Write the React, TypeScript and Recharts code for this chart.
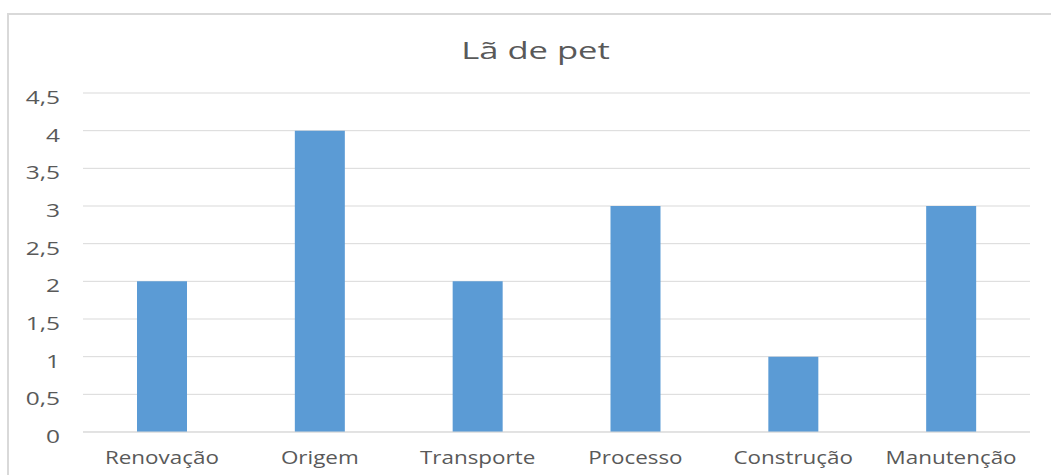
import { BarChart, Bar, XAxis, YAxis, CartesianGrid } from "recharts";

const categories = [
  "Renovação",
  "Origem",
  "Transporte",
  "Processo",
  "Construção",
  "Manutenção",
];
const values = [2, 4, 2, 3, 1, 3];
const yTicks = [0, 0.5, 1, 1.5, 2, 2.5, 3, 3.5, 4, 4.5];

const data = categories.map((name, i) => ({ name, value: values[i] }));

const textColor = "#595959";
const fontFamily = "'Open Sans', sans-serif";

// Excel export looks horizontally stretched, so the glyphs are scaled in x
function CategoryTick(props: any) {
  const { x, y, payload } = props;
  return (
    <g transform={`translate(${x},${y}) scale(1.18,1)`}>
      <text
        x={0}
        y={0}
        dy={22}
        textAnchor="middle"
        fontSize={19}
        fill={textColor}
        fontFamily={fontFamily}
      >
        {payload.value}
      </text>
    </g>
  );
}

function ValueTick(props: any) {
  const { x, y, payload } = props;
  return (
    <g transform={`translate(${x},${y}) scale(1.36,1)`}>
      <text
        x={0}
        y={0}
        dy={11}
        textAnchor="end"
        fontSize={18}
        fill={textColor}
        fontFamily={fontFamily}
      >
        {String(payload.value).replace(".", ",")}
      </text>
    </g>
  );
}

export default function App() {
  return (
    <div
      style={{
        position: "absolute",
        left: 0,
        top: 0,
        width: 1051,
        height: 475,
        background: "#fff",
        fontFamily,
      }}
    >
      <div
        style={{
          position: "absolute",
          left: 7,
          top: 13,
          right: 0,
          bottom: 0,
          borderLeft: "2px solid #d9d9d9",
          borderTop: "2px solid #d9d9d9",
        }}
      />
      <div
        style={{
          position: "absolute",
          left: 0,
          width: 1071,
          top: 33,
          textAlign: "center",
          fontSize: 24,
          color: textColor,
          lineHeight: "34px",
          transform: "scaleX(1.44)",
        }}
      >
        Lã de pet
      </div>
      <div style={{ position: "absolute", left: 0, top: 0 }}>
        <BarChart
          width={1051}
          height={475}
          data={data}
          margin={{ top: 93, right: 21, bottom: 13, left: 0 }}
        >
          <CartesianGrid stroke="#d9d9d9" vertical={false} />
          <XAxis
            dataKey="name"
            height={30}
            axisLine={{ stroke: "#d9d9d9" }}
            tickLine={false}
            tickSize={0}
            tickMargin={10}
            tick={<CategoryTick />}
            interval={0}
          />
          <YAxis
            width={83}
            domain={[0, 4.5]}
            ticks={yTicks}
            axisLine={false}
            tickLine={false}
            tickSize={0}
            tickMargin={23}
            tick={<ValueTick />}
          />
          <Bar
            dataKey="value"
            fill="#5b9bd5"
            barSize={50}
            isAnimationActive={false}
          />
        </BarChart>
      </div>
    </div>
  );
}
